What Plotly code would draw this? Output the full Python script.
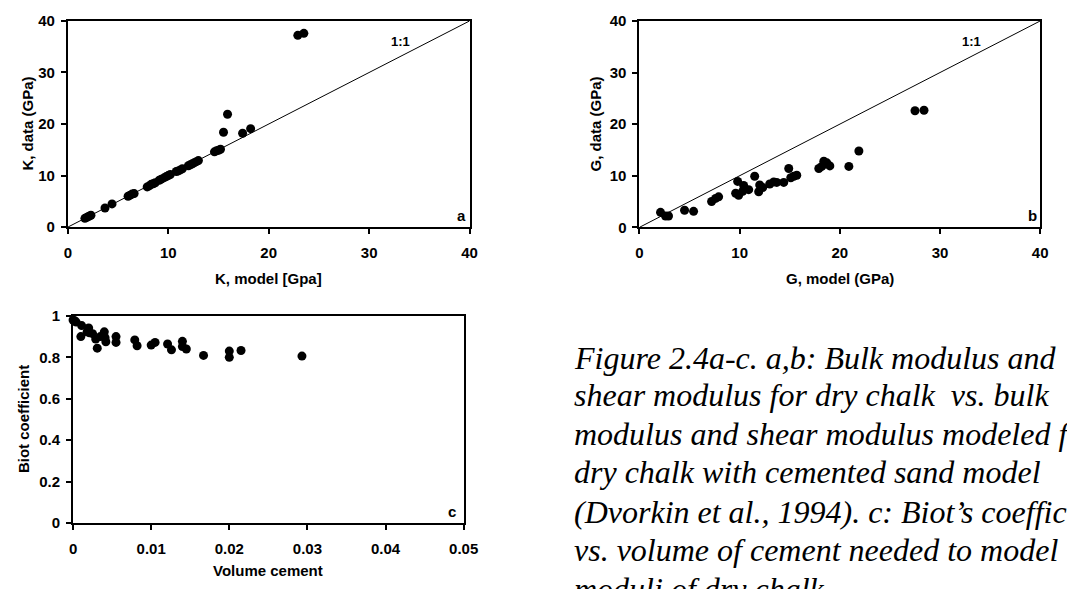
import plotly.graph_objects as go

# ---------------- data ----------------
K_MODEL = [1.7, 1.9, 2.1, 2.3, 3.7, 4.4, 6.0, 6.2, 6.4, 6.6, 7.9, 8.1, 8.3, 8.5, 8.7,
           9.1, 9.3, 9.6, 9.8, 10.0, 10.2, 10.8, 11.0, 11.2, 11.4, 12.0, 12.2, 12.4,
           12.6, 12.8, 13.0, 14.6, 14.8, 15.0, 15.2, 15.5, 15.9, 17.4, 18.2, 22.9, 23.5]
K_DATA = [1.7, 1.9, 2.1, 2.3, 3.7, 4.5, 6.0, 6.2, 6.4, 6.5, 7.8, 8.0, 8.3, 8.4, 8.6,
          9.1, 9.3, 9.6, 9.8, 10.0, 10.2, 10.8, 10.9, 11.1, 11.3, 11.9, 12.1, 12.3,
          12.5, 12.7, 12.9, 14.6, 14.8, 14.9, 15.1, 18.4, 21.9, 18.2, 19.1, 37.2, 37.6]

G_MODEL = [2.1, 2.6, 2.9, 4.5, 5.4, 7.2, 7.6, 7.9, 9.6, 9.8, 9.9, 10.3, 10.4, 10.9,
           11.5, 11.9, 12.0, 12.3, 13.0, 13.4, 13.7, 14.4, 14.9, 15.1, 15.4, 15.7,
           17.9, 18.2, 18.4, 18.7, 19.0, 20.9, 21.9, 27.5, 28.4]
G_DATA = [2.9, 2.2, 2.2, 3.3, 3.1, 5.0, 5.6, 5.9, 6.6, 8.9, 6.2, 7.0, 8.1, 7.3,
          9.9, 6.9, 8.2, 7.7, 8.4, 8.8, 8.7, 8.7, 11.4, 9.6, 9.9, 10.1,
          11.4, 11.8, 12.8, 12.5, 11.9, 11.8, 14.8, 22.6, 22.7]

CEMENT = [0.0, 0.0002, 0.0004, 0.0011, 0.0010, 0.0020, 0.0018, 0.0021, 0.0025, 0.0029,
          0.0031, 0.0035, 0.0040, 0.0041, 0.0042, 0.0055, 0.0055, 0.0079, 0.0082, 0.0100,
          0.0105, 0.0121, 0.0126, 0.0140, 0.0140, 0.0145, 0.0167, 0.0200, 0.0200, 0.0215,
          0.0293]
BIOT = [0.980, 0.977, 0.970, 0.953, 0.900, 0.942, 0.923, 0.918, 0.914, 0.888,
        0.844, 0.900, 0.923, 0.895, 0.875, 0.900, 0.872, 0.884, 0.856, 0.859,
        0.872, 0.864, 0.836, 0.877, 0.852, 0.840, 0.809, 0.830, 0.800, 0.833,
        0.806]

ONE_TO_ONE = [0, 40]
MOD_TICKS = [0, 10, 20, 30, 40]
MOD_TICK_LABELS = ["0", "10", "20", "30", "40"]
CEM_TICKS = [0, 0.01, 0.02, 0.03, 0.04, 0.05]
CEM_TICK_LABELS = ["0", "0.01", "0.02", "0.03", "0.04", "0.05"]
BIOT_TICKS = [0, 0.2, 0.4, 0.6, 0.8, 1.0]
BIOT_TICK_LABELS = ["0", "0.2", "0.4", "0.6", "0.8", "1"]

CAPTION = [
    "Figure 2.4a-c. a,b: Bulk modulus and",
    "shear modulus for dry chalk  vs. bulk",
    "modulus and shear modulus modeled for",
    "dry chalk with cemented sand model",
    "(Dvorkin et al., 1994). c: Biot\u2019s coefficient",
    "vs. volume of cement needed to model",
    "moduli of dry chalk.",
]

# ---------------- layout helpers ----------------
W, H = 1067, 589
def fx(px):
    return px / W
def fy(py):
    return 1 - py / H

SANS = "Liberation Sans, Arial, sans-serif"
SERIF = "Liberation Serif, Times New Roman, serif"
TICKFONT = dict(family=SANS, size=15, color="black", weight="bold")

fig = go.Figure()

marker = dict(color="black", size=9)

# panel a
fig.add_trace(go.Scatter(x=ONE_TO_ONE, y=ONE_TO_ONE, mode="lines",
                         line=dict(color="black", width=1), xaxis="x", yaxis="y",
                         showlegend=False, hoverinfo="skip"))
fig.add_trace(go.Scatter(x=K_MODEL, y=K_DATA, mode="markers", marker=marker,
                         xaxis="x", yaxis="y", showlegend=False, cliponaxis=False))
# panel b
fig.add_trace(go.Scatter(x=ONE_TO_ONE, y=ONE_TO_ONE, mode="lines",
                         line=dict(color="black", width=1), xaxis="x2", yaxis="y2",
                         showlegend=False, hoverinfo="skip"))
fig.add_trace(go.Scatter(x=G_MODEL, y=G_DATA, mode="markers", marker=marker,
                         xaxis="x2", yaxis="y2", showlegend=False, cliponaxis=False))
# panel c
fig.add_trace(go.Scatter(x=CEMENT, y=BIOT, mode="markers", marker=marker,
                         xaxis="x3", yaxis="y3", showlegend=False, cliponaxis=False))

def axis_common(**kw):
    d = dict(showline=True, linecolor="black", linewidth=2, mirror=True,
             ticks="outside", ticklen=5, tickwidth=1.5, tickcolor="black",
             showgrid=False, zeroline=False, tickfont=TICKFONT, fixedrange=True)
    d.update(kw)
    return d

# panel domains (pixels)
A = dict(x0=65, x1=474, y0=12.3, y1=224.6)
B = dict(x0=647, x1=1055, y0=12.3, y1=224.8)
C = dict(x0=70.3, x1=468, y0=316, y1=529.3)

fig.update_layout(
    width=W, height=H,
    margin=dict(l=0, r=0, t=0, b=0),
    paper_bgcolor="white", plot_bgcolor="white",
    showlegend=False,
    xaxis=axis_common(domain=[fx(A["x0"]), fx(A["x1"])], range=[0, 40], anchor="y",
                      tickvals=MOD_TICKS, ticktext=MOD_TICK_LABELS, ticklabelstandoff=6),
    yaxis=axis_common(domain=[fy(A["y1"]), fy(A["y0"])], range=[0, 40], anchor="x",
                      tickvals=MOD_TICKS, ticktext=MOD_TICK_LABELS, ticklabelstandoff=3),
    xaxis2=axis_common(domain=[fx(B["x0"]), fx(B["x1"])], range=[0, 40], anchor="y2",
                       tickvals=MOD_TICKS, ticktext=MOD_TICK_LABELS, ticklabelstandoff=6),
    yaxis2=axis_common(domain=[fy(B["y1"]), fy(B["y0"])], range=[0, 40], anchor="x2",
                       tickvals=MOD_TICKS, ticktext=MOD_TICK_LABELS, ticklabelstandoff=3),
    xaxis3=axis_common(domain=[fx(C["x0"]), fx(C["x1"])], range=[0, 0.05], anchor="y3",
                       tickvals=CEM_TICKS, ticktext=CEM_TICK_LABELS, ticklabelstandoff=6),
    yaxis3=axis_common(domain=[fy(C["y1"]), fy(C["y0"])], range=[0, 1], anchor="x3",
                       tickvals=BIOT_TICKS, ticktext=BIOT_TICK_LABELS, ticklabelstandoff=3),
)

ann = []
TITLEFONT = dict(family=SANS, size=15, color="black", weight="bold")
# axis titles
ann.append(dict(text="K, model [Gpa]", x=fx((A["x0"] + A["x1"]) / 2), y=fy(277),
                xref="paper", yref="paper", showarrow=False, font=TITLEFONT,
                xanchor="center", yanchor="middle"))
ann.append(dict(text="K, data (GPa)", x=fx(23), y=fy((A["y0"] + A["y1"]) / 2),
                xref="paper", yref="paper", showarrow=False, font=TITLEFONT,
                textangle=-90, xanchor="center", yanchor="middle"))
ann.append(dict(text="G, model (GPa)", x=fx((B["x0"] + B["x1"]) / 2), y=fy(277),
                xref="paper", yref="paper", showarrow=False, font=TITLEFONT,
                xanchor="center", yanchor="middle"))
ann.append(dict(text="G, data (GPa)", x=fx(602), y=fy((B["y0"] + B["y1"]) / 2),
                xref="paper", yref="paper", showarrow=False, font=TITLEFONT,
                textangle=-90, xanchor="center", yanchor="middle"))
ann.append(dict(text="Volume cement", x=fx((C["x0"] + C["x1"]) / 2), y=fy(578),
                xref="paper", yref="paper", showarrow=False, font=TITLEFONT,
                xanchor="center", yanchor="middle"))
ann.append(dict(text="Biot coefficient", x=fx(20), y=fy((C["y0"] + C["y1"]) / 2),
                xref="paper", yref="paper", showarrow=False, font=TITLEFONT,
                textangle=-90, xanchor="center", yanchor="middle"))

# in-panel labels
LBLFONT = dict(family=SANS, size=15, color="black", weight="bold")
SMALLFONT = dict(family=SANS, size=13, color="black", weight="bold")
ann.append(dict(text="1:1", x=33.1, y=36.0, xref="x", yref="y", showarrow=False, font=SMALLFONT))
ann.append(dict(text="a", x=39.2, y=2.2, xref="x", yref="y", showarrow=False, font=LBLFONT))
ann.append(dict(text="1:1", x=33.1, y=36.0, xref="x2", yref="y2", showarrow=False, font=SMALLFONT))
ann.append(dict(text="b", x=39.2, y=2.2, xref="x2", yref="y2", showarrow=False, font=LBLFONT))
ann.append(dict(text="c", x=0.0485, y=0.056, xref="x3", yref="y3", showarrow=False, font=LBLFONT))

# caption
CAPFONT = dict(family=SERIF, size=32, color="black", style="italic")
cap_x = 578
baselines = [370, 408, 448, 487, 528, 568, 607.5]
for line, base in zip(CAPTION, baselines):
    ann.append(dict(text=line, x=fx(cap_x), y=fy(base - 10.5), xref="paper", yref="paper",
                    showarrow=False, font=CAPFONT, xanchor="left", yanchor="middle"))

fig.update_layout(annotations=ann)

fig.write_html("out.html")
